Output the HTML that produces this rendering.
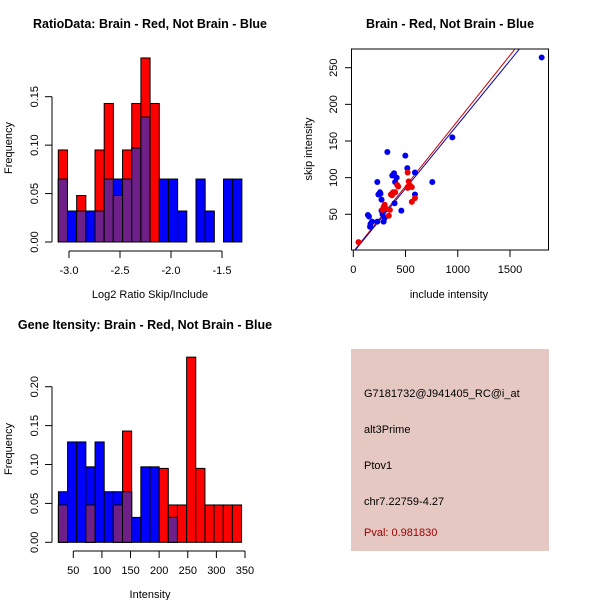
<!DOCTYPE html>
<html><head><meta charset="utf-8"><style>
body{margin:0;background:#fff}
svg{display:block;font-family:"Liberation Sans",sans-serif}
</style></head><body>
<svg id="svg" width="600" height="600" xmlns="http://www.w3.org/2000/svg">
<rect x="351" y="349" width="198" height="202" fill="#e5c8c2"/>
<text x="364" y="397" font-size="11">G7181732@J941405_RC@i_at</text>
<text x="364" y="433" font-size="11">alt3Prime</text>
<text x="364" y="469" font-size="11">Ptov1</text>
<text x="364" y="505" font-size="11">chr7.22759-4.27</text>
<text x="364" y="536" font-size="11" fill="#a00000">Pval: 0.981830</text>
</svg>
<script>
// ratio histogram
const ratioStart=-3.105, ratioWidth=0.09;
const ratioRed=[0.095,0,0.048,0,0.095,0.143,0.048,0.095,0.143,0.190,0.143,0,0,0,0,0,0,0,0,0];
const ratioBlue=[0.065,0.032,0.032,0.032,0.032,0.065,0.065,0.065,0.097,0.129,0,0.065,0.065,0.032,0,0.065,0.032,0,0.065,0.065];
const ratioTicks=[-3.0,-2.5,-2.0,-1.5];
const ratioYTicks=[0,0.05,0.10,0.15];
// intensity histogram
const intStart=24, intWidth=16;
const intRed=[0.048,0,0,0.048,0,0,0.048,0.143,0,0,0,0.095,0.048,0.048,0.238,0.095,0.048,0.048,0.048,0.048];
const intBlue=[0.065,0.129,0.129,0.097,0.129,0.065,0.065,0.065,0.032,0.097,0.097,0,0.032,0,0,0,0,0,0,0];
const intTicks=[50,100,150,200,250,300,350];
const intYTicks=[0,0.05,0.10,0.15,0.20];
// scatter
const blueInclude=[1803,948,326,498,517,590,373,230,756,415,390,400,240,255,590,270,400,395,460,270,280,300,290,230,180,165,160,140,150,280,260];
const blueSkip=[264,155,135,130,113,107,103,94,94,100,106,94,77,80,77,70,80,65,55,55,50,45,40,40,40,37,33,49,47,53,78];
const redInclude=[50,520,530,540,560,520,430,420,400,380,360,370,560,590,300,310,350,340,280,290,520];
const redSkip=[12,107,95,90,87,86,88,90,80,80,77,76,67,72,63,58,56,48,56,60,87];
const redLine=[-1,0.1786], blueLine=[-2,0.1745];
const scXTicks=[0,500,1000,1500], scYTicks=[50,100,150,200,250];

const svg=document.getElementById('svg');
const NS='http://www.w3.org/2000/svg';
function el(tag,attrs,txt){const e=document.createElementNS(NS,tag);for(const k in attrs)e.setAttribute(k,attrs[k]);if(txt!==undefined)e.textContent=txt;svg.appendChild(e);return e;}

function hist(o){
  const sx=v=>o.x0+(v-o.v0)*o.kx, sy=v=>o.y0-v*o.ky;
  const fmt=o.yfmt;
  for(let i=0;i<o.red.length;i++){
    const l=sx(o.start+i*o.w), r=sx(o.start+(i+1)*o.w);
    const rv=o.red[i], bv=o.blue[i];
    if(rv>0){const b=el('rect',{x:l,y:sy(rv),width:r-l,height:sy(0)-sy(rv),fill:'#ff0000',stroke:'#000','stroke-width':1});
      
      }
    if(bv>0){const b=el('rect',{x:l,y:sy(bv),width:r-l,height:sy(0)-sy(bv),fill:'#0000ff',stroke:'#000','stroke-width':1});
      
      }
    const m=Math.min(rv,bv);
    if(m>0){const b=el('rect',{x:l,y:sy(m),width:r-l,height:sy(0)-sy(m),fill:'#6e1f88',stroke:'#000','stroke-width':1});
      
      }
  }
  // y axis
  const ya=el('line',{x1:o.yx,x2:o.yx,y1:sy(o.yt[0]),y2:sy(o.yt[o.yt.length-1]),stroke:'#000'});
  
  
  o.yt.forEach(t=>{const y=sy(t);el('line',{x1:o.yx-7,x2:o.yx,y1:y,y2:y,stroke:'#000'});
    const tx=el('text',{x:o.yx-14,y:y,'font-size':11,'text-anchor':'middle',transform:`rotate(-90 ${o.yx-14} ${y})`},t.toFixed(2));
    
    });
  const xa=el('line',{x1:sx(o.xt[0]),x2:sx(o.xt[o.xt.length-1]),y1:o.xy,y2:o.xy,stroke:'#000'});
  
  
  o.xt.forEach(t=>{const x=sx(t);el('line',{x1:x,x2:x,y1:o.xy,y2:o.xy+7,stroke:'#000'});
    const tx=el('text',{x:x,y:o.xy+23,'font-size':11,'text-anchor':'middle'},o.xfmt(t));
    
    });
}
hist({red:ratioRed,blue:ratioBlue,start:ratioStart,w:ratioWidth,x0:69,v0:-3,kx:102,y0:242,ky:968.7,yx:52,xy:251,yt:ratioYTicks,xt:ratioTicks,xfmt:t=>t.toFixed(1)});
hist({red:intRed,blue:intBlue,start:intStart,w:intWidth,x0:73.3,v0:50,kx:0.5723,y0:542.3,ky:778,yx:52,xy:551,yt:intYTicks,xt:intTicks,xfmt:t=>String(t)});

// scatter
const px=v=>353.3+v*0.10447, py=v=>214.3-(v-50)*0.733;
const box=el('rect',{x:351.5,y:49,width:197,height:201,fill:'none',stroke:'#000'});


const cp=el('clipPath',{id:'cp'});
const cr=document.createElementNS(NS,'rect');cr.setAttribute('x',352);cr.setAttribute('y',49);cr.setAttribute('width',196);cr.setAttribute('height',201);cp.appendChild(cr);
[[redLine,'#cc0000','red-fit-line'],[blueLine,'#0000aa','blue-fit-line']].forEach(([c,col,n])=>{
  const l=el('line',{x1:px(0),y1:py(c[0]),x2:px(2000),y2:py(c[0]+c[1]*2000),stroke:col,'stroke-width':1,'clip-path':'url(#cp)'});
  
  
});
blueInclude.forEach((v,i)=>{const c=el('circle',{cx:px(v),cy:py(blueSkip[i]),r:3,fill:'#0000ee'});
  
  });
redInclude.forEach((v,i)=>{const c=el('circle',{cx:px(v),cy:py(redSkip[i]),r:3,fill:'#ee0000'});
  
  });
scXTicks.forEach(t=>{const x=px(t);el('line',{x1:x,x2:x,y1:250,y2:257,stroke:'#000'});
  const tx=el('text',{x:x,y:273,'font-size':11,'text-anchor':'middle'},String(t));
  
  });
scYTicks.forEach(t=>{const y=py(t);el('line',{x1:345,x2:351.5,y1:y,y2:y,stroke:'#000'});
  const tx=el('text',{x:337,y:y,'font-size':11,'text-anchor':'middle',transform:`rotate(-90 337 ${y})`},String(t));
  
  });

function txt(x,y,s,size,name,opts){const t=el('text',Object.assign({x:x,y:y,'font-size':size,'text-anchor':'middle'},opts||{}),s);
  
  }
txt(150,28,'RatioData: Brain - Red, Not Brain - Blue',12.5,'title-ratio',{'font-weight':'bold'});
txt(450,28,'Brain - Red, Not Brain - Blue',12.5,'title-scatter',{'font-weight':'bold'});
txt(145,329,'Gene Itensity: Brain - Red, Not Brain - Blue',12.5,'title-intensity',{'font-weight':'bold'});
txt(150,298,'Log2 Ratio Skip/Include',11,'x-axis-title-ratio');
txt(449,298,'include intensity',11,'x-axis-title-scatter');
txt(150,598,'Intensity',11,'x-axis-title-intensity');
txt(12,148,'Frequency',11,'y-axis-title-ratio',{transform:'rotate(-90 12 148)'});
txt(12,449,'Frequency',11,'y-axis-title-intensity',{transform:'rotate(-90 12 449)'});
txt(312,149,'skip intensity',11,'y-axis-title-scatter',{transform:'rotate(-90 312 149)'});
</script>
</body></html>
